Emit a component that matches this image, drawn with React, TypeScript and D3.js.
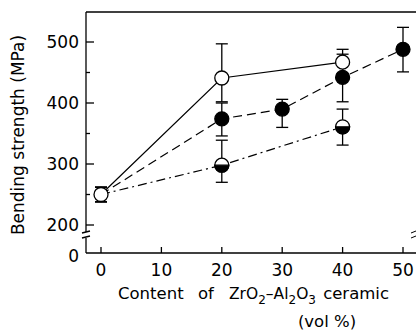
import React, { useRef, useEffect } from "react";
import * as d3 from "d3";

// content of ZrO2-Al2O3 (vol %) and bending strength (MPa)
const openX = [0, 20, 40];
const openY = [250, 441, 467];
const openLo = [238, 402, 448];
const openHi = [262, 497, 488];

const filledX = [0, 20, 30, 40, 50];
const filledY = [250, 374, 390, 442, 488];
const filledLo = [238, 346, 360, 402, 451];
const filledHi = [262, 400, 406, 480, 524];

const halfX = [0, 20, 40];
const halfY = [250, 298, 361];
const halfLo = [238, 270, 331];
const halfHi = [262, 339, 390];

const xTicks = [0, 10, 20, 30, 40, 50];
const yTicks = [200, 300, 400, 500];
const yMinor = [250, 350, 450];

type Pt = { x: number; y: number; lo: number; hi: number };
const zip = (xs: number[], ys: number[], lo: number[], hi: number[]): Pt[] =>
  xs.map((x, i) => ({ x, y: ys[i], lo: lo[i], hi: hi[i] }));

function App() {
  const svgRef = useRef<SVGSVGElement>(null);

  useEffect(() => {
    const width = 416;
    const height = 330;
    const left = 86;
    const top = 12;
    const axisY = 253;
    const font = "'DejaVu Sans', sans-serif";

    const svg = d3.select(svgRef.current).attr("width", width).attr("height", height);
    svg.selectAll("*").remove();

    const x = d3.scaleLinear().domain([0, 50]).range([101, 403]);
    const y = d3.scaleLinear().domain([200, 500]).range([225, 42]);

    const g = svg.append("g").attr("stroke", "#000").attr("fill", "none").attr("stroke-width", 1.3);

    // frame: top, left (broken), bottom
    g.append("line").attr("x1", left).attr("x2", width).attr("y1", top).attr("y2", top);
    g.append("line").attr("x1", left).attr("x2", left).attr("y1", top).attr("y2", 232);
    g.append("line").attr("x1", left).attr("x2", left).attr("y1", 238).attr("y2", axisY);
    g.append("line").attr("x1", left).attr("x2", width).attr("y1", axisY).attr("y2", axisY);

    // break marks
    [232, 237].forEach((b) => {
      g.append("line").attr("x1", left - 4).attr("x2", left + 4).attr("y1", b + 1).attr("y2", b - 1);
      g.append("line").attr("x1", 411).attr("x2", 416).attr("y1", b + 1).attr("y2", b - 1).attr("stroke-width", 1);
    });

    // ticks
    xTicks.forEach((t) => {
      g.append("line").attr("x1", x(t)).attr("x2", x(t)).attr("y1", axisY).attr("y2", axisY - 6);
    });
    yTicks.forEach((t) => {
      g.append("line").attr("x1", left).attr("x2", left + 8).attr("y1", y(t)).attr("y2", y(t));
    });
    yMinor.forEach((t) => {
      g.append("line").attr("x1", left).attr("x2", left + 4).attr("y1", y(t)).attr("y2", y(t));
    });

    // tick labels
    const txt = svg.append("g").attr("font-family", font).attr("fill", "#000");
    xTicks.forEach((t) => {
      txt.append("text").attr("x", x(t)).attr("y", 276).attr("text-anchor", "middle")
        .attr("font-size", 17).text(t);
    });
    yTicks.forEach((t) => {
      txt.append("text").attr("x", 79).attr("y", y(t) + 6).attr("text-anchor", "end")
        .attr("font-size", 17).text(t);
    });
    txt.append("text").attr("x", 79).attr("y", 262).attr("text-anchor", "end")
      .attr("font-size", 17).text("0");

    // axis titles
    txt.append("text").attr("transform", "translate(24,135) rotate(-90)")
      .attr("text-anchor", "middle").attr("font-size", 17).text("Bending strength (MPa)");

    const xl = txt.append("g").attr("font-size", 16.5);
    xl.append("text").attr("x", 118).attr("y", 299).text("Content");
    xl.append("text").attr("x", 198).attr("y", 299).text("of");
    const chem = xl.append("text").attr("x", 229).attr("y", 299).attr("font-size", 15.5);
    chem.append("tspan").text("ZrO");
    chem.append("tspan").attr("font-size", 12).attr("dy", 5).text("2");
    chem.append("tspan").attr("dy", -5).text("–Al");
    chem.append("tspan").attr("font-size", 12).attr("dy", 5).text("2");
    chem.append("tspan").attr("dy", -5).text("O");
    chem.append("tspan").attr("font-size", 12).attr("dy", 5).text("3");
    xl.append("text").attr("x", 389).attr("y", 299).attr("text-anchor", "end").text("ceramic");
    xl.append("text").attr("x", 327).attr("y", 327).attr("text-anchor", "middle").text("(vol %)");

    const series = [
      { pts: zip(halfX, halfY, halfLo, halfHi), dash: "9,4,2,4", kind: "half" },
      { pts: zip(filledX, filledY, filledLo, filledHi), dash: "9,5", kind: "filled" },
      { pts: zip(openX, openY, openLo, openHi), dash: null, kind: "open" },
    ];

    const line = d3.line<Pt>().x((d) => x(d.x)).y((d) => y(d.y));

    // lines
    series.forEach((s) => {
      g.append("path").datum(s.pts).attr("d", line).attr("stroke-width", 1.2)
        .attr("stroke-dasharray", s.dash);
    });

    // error bars
    series.forEach((s) => {
      const eb = g.append("g").attr("stroke-width", 1.3);
      s.pts.forEach((d) => {
        eb.append("line").attr("x1", x(d.x)).attr("x2", x(d.x)).attr("y1", y(d.lo)).attr("y2", y(d.hi));
        [d.lo, d.hi].forEach((v) => {
          eb.append("line").attr("x1", x(d.x) - 6).attr("x2", x(d.x) + 6).attr("y1", y(v)).attr("y2", y(v));
        });
      });
    });

    // markers
    const r = 7;
    series.forEach((s) => {
      s.pts.forEach((d, i) => {
        if (i === 0 && s.kind !== "open") return;
        const cx = x(d.x);
        const cy = y(d.y);
        if (s.kind === "half") {
          g.append("circle").attr("cx", cx).attr("cy", cy).attr("r", r).attr("fill", "#fff");
          g.append("path")
            .attr("d", `M${cx - r},${cy} A${r},${r} 0 0 0 ${cx + r},${cy} Z`)
            .attr("fill", "#000");
        } else {
          g.append("circle").attr("cx", cx).attr("cy", cy).attr("r", r)
            .attr("fill", s.kind === "filled" ? "#000" : "#fff");
        }
      });
    });
  }, []);

  return (
    <svg ref={svgRef} style={{ position: "absolute", left: 0, top: 0, background: "#fff" }}></svg>
  );
}

export default App;
